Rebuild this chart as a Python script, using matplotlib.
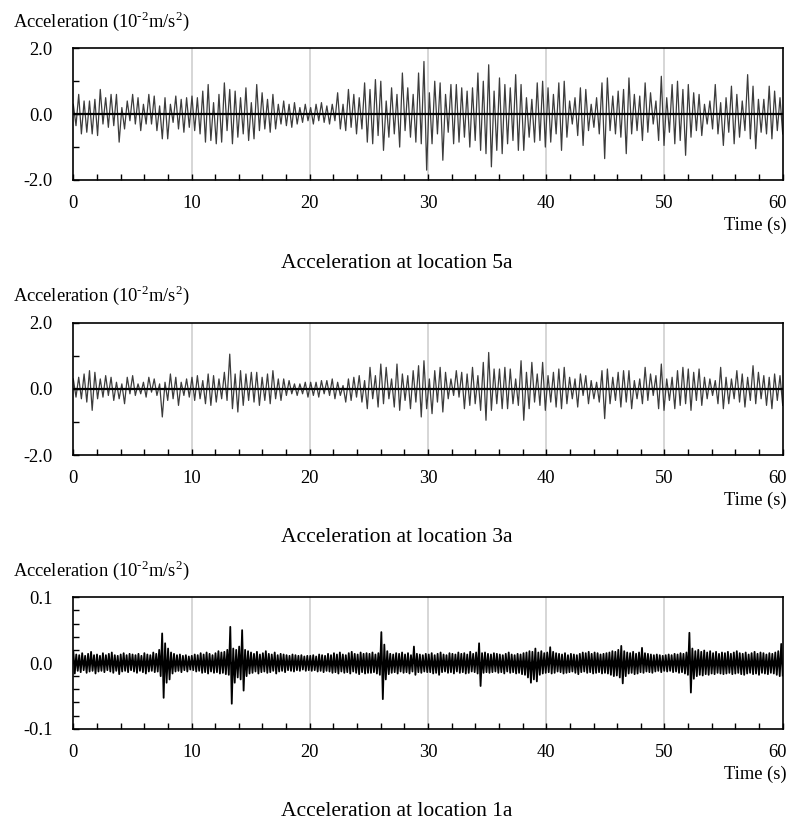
import numpy as np
import matplotlib
matplotlib.use("Agg")
import matplotlib.pyplot as plt
import matplotlib.transforms as mtransforms
from matplotlib.ticker import MultipleLocator, FixedLocator, FixedFormatter

plt.rcParams["font.family"] = ["Liberation Serif", "DejaVu Serif"]
plt.rcParams["mathtext.fontset"] = "custom"
plt.rcParams["mathtext.rm"] = "Liberation Serif"

# ---- data (10^-2 m/s^2) ----
# location 5a: successive peaks / troughs, 22 per 10 s
peaks_5a = [0.3, 0.6, 0.4, 0.4, 0.45, 0.75, 0.5, 0.6, 0.6, 0.2, 0.4, 0.6, 0.5, 0.3, 0.6, 0.55, 0.25, 0.5, 0.3, 0.55, 0.45, 0.5,
            0.55, 0.5, 0.7, 0.9, 0.35, 0.6, 0.95, 0.75, 0.7, 0.5, 0.8, 0.35, 0.9, 0.65, 0.45, 0.6, 0.3, 0.4, 0.3, 0.35, 0.2, 0.3,
            0.2, 0.3, 0.35, 0.25, 0.3, 0.65, 0.3, 0.75, 0.6, 0.5, 0.95, 0.75, 1.05, 1.0, 0.4, 0.8, 0.6, 1.25, 0.8, 0.6, 1.25, 1.6,
            0.65, 1.0, 0.95, 0.6, 0.9, 0.9, 0.8, 0.7, 0.8, 1.25, 1.0, 1.5, 0.7, 1.1, 0.9, 0.8, 1.2, 0.9, 0.5, 0.45, 0.95, 1.0,
            0.8, 0.6, 0.95, 1.0, 0.4, 0.5, 0.8, 0.75, 0.3, 0.5, 0.95, 1.1, 0.55, 0.7, 0.75, 1.1, 0.6, 0.55, 0.95, 0.65, 0.4, 1.15,
            0.5, 0.9, 1.0, 0.75, 0.9, 0.65, 0.6, 0.3, 0.4, 0.9, 0.35, 0.5, 0.85, 0.6, 0.4, 1.2, 0.85, 0.45, 0.45, 0.85, 0.7, 0.5]
troughs_5a = [-0.35, -0.6, -0.55, -0.6, -0.65, -0.3, -0.4, -0.35, -0.85, -0.45, -0.2, -0.3, -0.5, -0.3, -0.3, -0.5, -0.75, -0.75, -0.25, -0.45, -0.55, -0.4,
              -0.5, -0.6, -0.85, -0.8, -0.9, -0.85, -0.5, -0.9, -0.7, -0.6, -0.8, -0.75, -0.5, -0.45, -0.55, -0.45, -0.3, -0.35, -0.4, -0.3, -0.25, -0.2,
              -0.3, -0.2, -0.25, -0.3, -0.2, -0.45, -0.5, -0.4, -0.6, -0.45, -0.85, -0.9, -0.65, -1.1, -0.7, -0.6, -1.0, -0.5, -0.7, -0.85, -0.9, -1.7,
              -0.9, -0.6, -1.4, -0.55, -0.9, -0.85, -0.7, -1.0, -0.8, -1.1, -1.2, -1.6, -1.1, -1.2, -0.9, -0.8, -1.1, -1.1, -0.7, -0.85, -0.8, -1.0,
              -0.85, -0.6, -1.1, -0.7, -0.3, -0.65, -0.95, -0.5, -0.4, -0.6, -1.35, -0.5, -0.6, -0.7, -1.2, -0.6, -0.5, -0.8, -0.55, -0.3, -0.8, -0.95,
              -0.55, -0.9, -0.8, -1.25, -0.7, -0.5, -0.65, -0.3, -0.45, -0.6, -0.95, -0.55, -0.9, -0.7, -0.5, -0.75, -1.05, -0.55, -0.6, -0.75, -0.5, -0.6]

# location 3a
peaks_3a = [0.3, 0.35, 0.45, 0.55, 0.5, 0.3, 0.4, 0.35, 0.2, 0.15, 0.35, 0.4, 0.15, 0.2, 0.35, 0.3, 0.15, 0.2, 0.45, 0.35, 0.2, 0.3,
            0.35, 0.4, 0.25, 0.45, 0.4, 0.3, 0.5, 1.05, 0.45, 0.55, 0.45, 0.5, 0.5, 0.35, 0.45, 0.55, 0.3, 0.3, 0.25, 0.15, 0.15, 0.2,
            0.2, 0.2, 0.25, 0.25, 0.3, 0.2, 0.1, 0.3, 0.35, 0.4, 0.25, 0.65, 0.4, 0.75, 0.65, 0.3, 0.75, 0.45, 0.4, 0.55, 0.7, 0.85,
            0.3, 0.55, 0.65, 0.5, 0.3, 0.55, 0.5, 0.45, 0.65, 0.4, 0.8, 1.1, 0.6, 0.6, 0.65, 0.6, 0.3, 0.85, 0.5, 0.8, 0.45, 0.8,
            0.4, 0.5, 0.6, 0.65, 0.35, 0.3, 0.45, 0.4, 0.25, 0.2, 0.55, 0.6, 0.35, 0.5, 0.55, 0.55, 0.25, 0.3, 0.65, 0.45, 0.4, 0.75,
            0.3, 0.35, 0.55, 0.65, 0.6, 0.5, 0.6, 0.35, 0.3, 0.25, 0.65, 0.35, 0.3, 0.55, 0.45, 0.35, 0.7, 0.5, 0.4, 0.35, 0.45, 0.4]
troughs_3a = [-0.25, -0.3, -0.4, -0.65, -0.3, -0.25, -0.2, -0.35, -0.3, -0.45, -0.15, -0.2, -0.15, -0.25, -0.1, -0.2, -0.85, -0.35, -0.3, -0.5, -0.2, -0.25,
              -0.35, -0.3, -0.45, -0.5, -0.4, -0.3, -0.35, -0.6, -0.7, -0.5, -0.35, -0.4, -0.5, -0.35, -0.45, -0.3, -0.35, -0.2, -0.15, -0.2, -0.15, -0.25,
              -0.2, -0.25, -0.15, -0.2, -0.3, -0.2, -0.4, -0.35, -0.25, -0.4, -0.6, -0.3, -0.55, -0.45, -0.3, -0.55, -0.65, -0.35, -0.6, -0.4, -0.85, -0.6,
              -0.75, -0.4, -0.7, -0.3, -0.2, -0.25, -0.6, -0.5, -0.45, -0.65, -0.95, -0.65, -0.45, -0.6, -0.6, -0.45, -0.5, -0.95, -0.6, -0.4, -0.5, -0.65,
              -0.4, -0.55, -0.6, -0.45, -0.3, -0.55, -0.2, -0.45, -0.3, -0.4, -0.9, -0.45, -0.35, -0.55, -0.4, -0.6, -0.3, -0.45, -0.35, -0.2, -0.6, -0.65,
              -0.35, -0.6, -0.5, -0.45, -0.65, -0.35, -0.5, -0.3, -0.2, -0.45, -0.6, -0.45, -0.3, -0.4, -0.55, -0.35, -0.45, -0.3, -0.5, -0.6, -0.35, -0.5]

# location 1a: upper / lower extremes of the noise band, every 0.25 s
upper_1a = [0.018, 0.013, 0.012, 0.015, 0.011, 0.014, 0.017, 0.012, 0.013, 0.011, 0.015, 0.012, 0.014, 0.016, 0.012, 0.011, 0.013, 0.015, 0.012, 0.014,
            0.013, 0.012, 0.014, 0.011, 0.015, 0.013, 0.012, 0.016, 0.014, 0.020, 0.045, 0.030, 0.022, 0.016, 0.014, 0.012, 0.013, 0.011, 0.012, 0.010,
            0.011, 0.013, 0.012, 0.015, 0.013, 0.016, 0.014, 0.012, 0.015, 0.018, 0.016, 0.017, 0.020, 0.055, 0.022, 0.020, 0.025, 0.050, 0.020, 0.018,
            0.016, 0.014, 0.017, 0.013, 0.015, 0.018, 0.014, 0.013, 0.016, 0.012, 0.014, 0.013, 0.012, 0.011, 0.013, 0.012, 0.011, 0.012, 0.010, 0.011,
            0.011, 0.012, 0.010, 0.013, 0.012, 0.011, 0.014, 0.012, 0.015, 0.013, 0.016, 0.013, 0.012, 0.015, 0.017, 0.014, 0.013, 0.016, 0.014, 0.015,
            0.014, 0.016, 0.013, 0.015, 0.047, 0.028, 0.018, 0.014, 0.013, 0.015, 0.014, 0.016, 0.013, 0.015, 0.012, 0.025, 0.014, 0.013, 0.012, 0.014,
            0.013, 0.015, 0.012, 0.014, 0.016, 0.013, 0.012, 0.015, 0.014, 0.013, 0.016, 0.014, 0.015, 0.013, 0.017, 0.014, 0.016, 0.030, 0.015, 0.016,
            0.014, 0.013, 0.015, 0.014, 0.013, 0.012, 0.014, 0.016, 0.013, 0.012, 0.014, 0.013, 0.015, 0.016, 0.018, 0.017, 0.022, 0.016, 0.018, 0.015,
            0.016, 0.024, 0.017, 0.015, 0.014, 0.013, 0.015, 0.012, 0.014, 0.013, 0.012, 0.014, 0.016, 0.015, 0.017, 0.014, 0.016, 0.015, 0.013, 0.014,
            0.015, 0.016, 0.018, 0.017, 0.020, 0.026, 0.018, 0.016, 0.015, 0.017, 0.014, 0.016, 0.023, 0.015, 0.014, 0.013, 0.012, 0.013, 0.012, 0.011,
            0.012, 0.013, 0.012, 0.014, 0.013, 0.015, 0.014, 0.016, 0.046, 0.022, 0.018, 0.020, 0.017, 0.019, 0.016, 0.018, 0.015, 0.017, 0.014, 0.016,
            0.015, 0.017, 0.014, 0.016, 0.018, 0.015, 0.014, 0.016, 0.013, 0.015, 0.017, 0.014, 0.016, 0.015, 0.013, 0.015, 0.014, 0.016, 0.018, 0.029]
lower_1a = [-0.016, -0.012, -0.014, -0.011, -0.015, -0.013, -0.012, -0.016, -0.013, -0.012, -0.014, -0.011, -0.013, -0.015, -0.012, -0.017, -0.013, -0.012, -0.014, -0.011,
            -0.013, -0.015, -0.012, -0.014, -0.016, -0.013, -0.012, -0.014, -0.013, -0.020, -0.053, -0.030, -0.025, -0.016, -0.013, -0.012, -0.014, -0.011, -0.013, -0.010,
            -0.011, -0.013, -0.012, -0.015, -0.014, -0.016, -0.013, -0.015, -0.014, -0.016, -0.015, -0.017, -0.018, -0.062, -0.030, -0.022, -0.025, -0.042, -0.020, -0.016,
            -0.015, -0.013, -0.016, -0.014, -0.013, -0.015, -0.014, -0.012, -0.016, -0.013, -0.012, -0.014, -0.011, -0.012, -0.013, -0.011, -0.012, -0.010, -0.012, -0.011,
            -0.012, -0.011, -0.013, -0.012, -0.014, -0.012, -0.013, -0.015, -0.014, -0.016, -0.013, -0.015, -0.014, -0.016, -0.013, -0.015, -0.017, -0.014, -0.016, -0.015,
            -0.015, -0.014, -0.016, -0.018, -0.055, -0.025, -0.017, -0.015, -0.014, -0.016, -0.013, -0.015, -0.014, -0.016, -0.013, -0.018, -0.014, -0.015, -0.013, -0.014,
            -0.014, -0.016, -0.015, -0.018, -0.014, -0.013, -0.015, -0.014, -0.016, -0.013, -0.015, -0.014, -0.016, -0.015, -0.013, -0.014, -0.016, -0.035, -0.015, -0.014,
            -0.015, -0.014, -0.013, -0.015, -0.014, -0.016, -0.013, -0.015, -0.014, -0.016, -0.015, -0.017, -0.018, -0.022, -0.030, -0.025, -0.028, -0.018, -0.016, -0.015,
            -0.014, -0.016, -0.015, -0.013, -0.014, -0.016, -0.015, -0.014, -0.013, -0.015, -0.017, -0.014, -0.013, -0.015, -0.014, -0.016, -0.015, -0.014, -0.016, -0.015,
            -0.016, -0.018, -0.020, -0.019, -0.022, -0.031, -0.020, -0.016, -0.015, -0.017, -0.016, -0.014, -0.015, -0.013, -0.014, -0.015, -0.013, -0.012, -0.014, -0.012,
            -0.013, -0.012, -0.014, -0.013, -0.015, -0.014, -0.016, -0.018, -0.045, -0.024, -0.020, -0.018, -0.019, -0.017, -0.018, -0.016, -0.017, -0.015, -0.016, -0.017,
            -0.016, -0.015, -0.017, -0.016, -0.015, -0.017, -0.018, -0.016, -0.015, -0.017, -0.016, -0.018, -0.015, -0.016, -0.017, -0.015, -0.016, -0.018, -0.020, -0.019]

titles = ["Acceleration at location 5a", "Acceleration at location 3a", "Acceleration at location 1a"]
ylims = [2.0, 2.0, 0.1]
yticklabels = [["-2.0", "0.0", "2.0"], ["-2.0", "0.0", "2.0"], ["-0.1", "0.0", "0.1"]]
yminor_step = [1.0, 1.0, 0.02]
xticks = [0, 10, 20, 30, 40, 50, 60]


def interleave(a, b):
    out = np.empty(len(a) + len(b))
    out[0::2] = a
    out[1::2] = b
    return out


series = [interleave(peaks_5a, troughs_5a),
          interleave(peaks_3a, troughs_3a),
          interleave(upper_1a, lower_1a)]

fig = plt.figure(figsize=(7.88, 8.21), dpi=100)
W, H = 788, 821
tops = [48.3, 322.7, 597.3]
bottoms = [180.0, 455.0, 728.7]
left, right = 73.3, 782.7

for i in range(3):
    ax = fig.add_axes([left / W, 1 - bottoms[i] / H, (right - left) / W, (bottoms[i] - tops[i]) / H])
    y = series[i]
    t = np.linspace(0, 60, len(y))
    if i < 2:
        ax.plot(t, y, color="#3c3c3c", lw=0.9, zorder=2)
    else:
        ax.plot(t, y, color="black", lw=1.3, zorder=2)
    ax.axhline(0, color="black", lw=1.6, zorder=3)
    for g in xticks[1:-1]:
        ax.axvline(g, color="#cccccc", lw=1.1, zorder=1)

    lim = ylims[i]
    ax.set_xlim(0, 60)
    ax.set_ylim(-lim, lim)
    ax.xaxis.set_major_locator(FixedLocator(xticks))
    ax.xaxis.set_minor_locator(MultipleLocator(2))
    ax.yaxis.set_major_locator(FixedLocator([-lim, 0, lim]))
    ax.yaxis.set_major_formatter(FixedFormatter(yticklabels[i]))
    ax.yaxis.set_minor_locator(MultipleLocator(yminor_step[i]))
    ax.tick_params(which="both", direction="in", top=False, right=False,
                   length=4, width=1, labelsize=13.3, color="black")
    ax.tick_params(axis="y", pad=15)
    ax.tick_params(axis="x", pad=11)
    for sp in ax.spines.values():
        sp.set_linewidth(1.2)

    # nudge the last x label ("60") left so it stays inside the image
    last = ax.get_xticklabels()[-1]
    last.set_transform(last.get_transform() + mtransforms.ScaledTranslation(-5 / 100, 0, fig.dpi_scale_trans))

    ax.annotate(r"Acceleration (10$^{\text{-}2}$m/s$^{2}$)", xy=(0, 1), xycoords="axes fraction",
                xytext=(-60.3 / 1.389, 27 / 1.389), textcoords="offset points",
                ha="left", va="center", fontsize=13.3)
    ax.annotate("Time (s)", xy=(1, 0), xycoords="axes fraction",
                xytext=(4 / 1.389, -45.7 / 1.389), textcoords="offset points",
                ha="right", va="center", fontsize=13.3)
    fig.text(397 / W, 1 - (bottoms[i] + 83) / H, titles[i], ha="center", va="center", fontsize=15.5)

fig.savefig("out.png", dpi=100)
